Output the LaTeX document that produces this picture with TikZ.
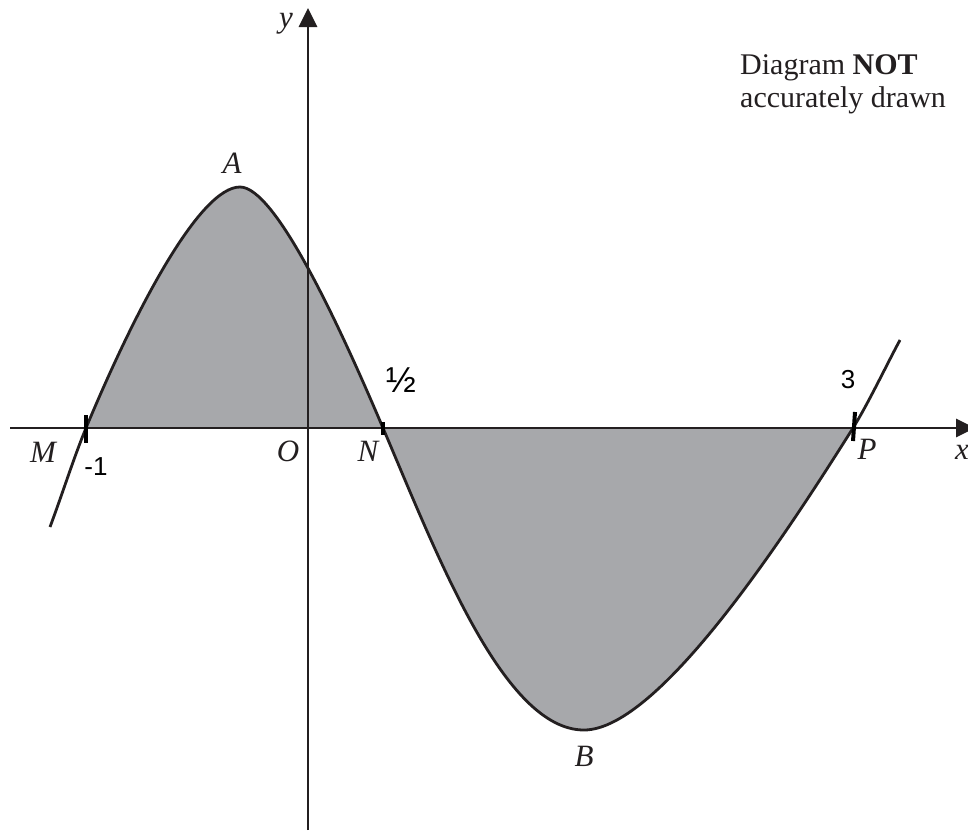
\documentclass[tikz,border=0pt]{standalone}
\usepackage{fontspec}
\setmainfont{Liberation Serif}
\newfontfamily\handfont{Liberation Sans}
\usetikzlibrary{arrows.meta}
\definecolor{ink}{HTML}{231F20}
\definecolor{greyfill}{HTML}{A7A8AB}
\tikzset{
  axisline/.style={draw=ink, line width=2.8pt, -{Triangle[length=19pt,width=18pt]}},
  curveline/.style={draw=ink, line width=2.8pt},
  lbl/.style={font=\fontsize{31}{31}\selectfont\itshape, text=ink, inner sep=0pt},
  note/.style={font=\fontsize{30}{33}\selectfont, text=ink, inner sep=0pt, align=left, anchor=north west},
  hand/.style={font=\handfont\fontsize{26}{26}\selectfont, inner sep=0pt},
  tickmark/.style={draw=black, line width=4pt},
}
\begin{document}
\begin{tikzpicture}[x=1pt,y=-1pt]
\clip (0,0) rectangle (968,836);
\fill[white] (0,0) rectangle (968,836);
% key points
\coordinate (O) at (308,428);
\coordinate (xs) at (10,428);
\coordinate (xe) at (975,428);
\coordinate (ys) at (308,830);
\coordinate (ye) at (308,8);
\coordinate (L) at (50,527);
\coordinate (M) at (86,428);
\coordinate (A) at (240,187);
\coordinate (N) at (383,428);
\coordinate (B) at (584,730);
\coordinate (P) at (853,428);
\coordinate (R) at (900,340);
% shaded region
\fill[greyfill] (M) .. controls (136,308) and (200,187) .. (A)
  .. controls (275,187) and (338,322) .. (N)
  .. controls (438,557) and (504,730) .. (B)
  .. controls (660,730) and (790,528) .. (P) -- cycle;
% axes
\draw[axisline] (xs) -- (xe);
\draw[axisline] (ys) -- (ye);
% curve
\draw[curveline] (L) .. controls (62,495) and (74,457) .. (M)
  .. controls (136,308) and (200,187) .. (A)
  .. controls (275,187) and (338,322) .. (N)
  .. controls (438,557) and (504,730) .. (B)
  .. controls (660,730) and (790,528) .. (P)
  .. controls (868,404) and (888,362) .. (R);
% handwritten tick marks
\draw[tickmark] (86,415) -- (86,443);
\draw[tickmark] (383,422) -- (383,435);
\draw[tickmark] (855,412) -- (853,441);
% labels
\node[lbl] (lM) at (43,452) {M};
\node[lbl] (lO) at (288,451) {O};
\node[lbl] (lN) at (368,451) {N};
\node[lbl] (lP) at (867,449) {P};
\node[lbl] (lx) at (962,452) {x};
\node[lbl] (ly) at (286,24) {y};
\node[lbl] (lA) at (232,163) {A};
\node[lbl] (lB) at (584,756) {B};
% handwritten values
\node[hand] (hm) at (96,467) {-1};
\node[hand, font=\handfont\fontsize{36}{36}\selectfont] (hn) at (401,380) {½};
\node[hand] (hp) at (848,380) {3};
% note
\node[note] (note) at (740,54) {Diagram \textbf{NOT}\\accurately drawn};
\end{tikzpicture}
\end{document}
